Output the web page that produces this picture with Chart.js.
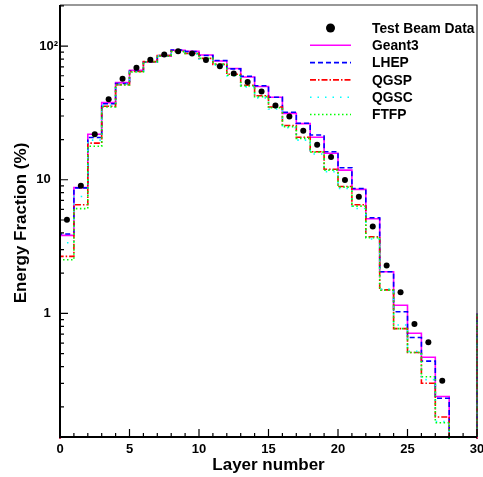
<!DOCTYPE html>
<html>
<head>
<meta charset="utf-8">
<script src="https://cdn.jsdelivr.net/npm/chart.js@4.4.0/dist/chart.umd.min.js"></script>
<style>
  html, body { margin: 0; padding: 0; background: #fff; }
</style>
</head>
<body>
<canvas id="chart" width="483" height="477"></canvas>
<script>
// bin lower edges (layer number), bins are 1 layer wide
const layerBins = [0, 1, 2, 3, 4, 5, 6, 7, 8, 9, 10, 11, 12, 13, 14, 15, 16, 17, 18, 19, 20, 21, 22, 23, 24, 25, 26, 27, 28, 29, 30];

// test beam data, at the layer centres
const beamLayers = [0.5, 1.5, 2.5, 3.5, 4.5, 5.5, 6.5, 7.5, 8.5, 9.5, 10.5, 11.5, 12.5, 13.5, 14.5, 15.5, 16.5, 17.5, 18.5, 19.5, 20.5, 21.5, 22.5, 23.5, 24.5, 25.5, 26.5, 27.5];
const testBeam = [5.03, 9.03, 21.9, 40.0, 57.1, 69.0, 79.2, 86.4, 91.4, 87.9, 78.7, 70.6, 62.3, 53.9, 45.7, 35.9, 29.7, 23.3, 18.3, 14.8, 9.95, 7.47, 4.48, 2.28, 1.44, 0.832, 0.61, 0.313];

// simulated energy fraction per layer (%)
const geant3 = [3.84, 8.73, 21.9, 37.8, 53.3, 65.9, 76.0, 84.4, 93.0, 91.4, 85.8, 77.4, 67.9, 58.7, 49.8, 41.4, 31.4, 26.3, 20.8, 15.8, 11.8, 8.47, 5.11, 2.05, 1.15, 0.71, 0.47, 0.239, 0, 0, 1.0];
const lhep = [3.93, 8.7, 20.7, 37.0, 52.5, 65.0, 76.0, 85.0, 93.5, 91.0, 85.0, 78.0, 67.5, 59.5, 50.5, 41.4, 32.0, 26.5, 21.6, 16.2, 12.3, 8.6, 5.2, 2.05, 1.03, 0.66, 0.44, 0.232, 0, 0, 1.0];
const qgsp = [2.67, 6.51, 18.8, 35.5, 51.5, 64.5, 76.5, 85.0, 91.5, 88.0, 81.0, 73.0, 61.5, 51.0, 42.5, 35.0, 25.5, 20.8, 16.2, 12.0, 8.9, 6.5, 3.75, 1.5, 0.77, 0.51, 0.30, 0.168, 0, 0, 1.0];
const qgsc = [3.38, 7.5, 19.8, 36.0, 52.0, 64.5, 76.0, 84.5, 91.0, 87.5, 80.0, 72.0, 60.0, 49.5, 41.0, 33.8, 24.5, 19.8, 15.6, 11.5, 8.6, 6.1, 3.6, 1.52, 0.82, 0.52, 0.32, 0.155, 0, 0, 1.0];
const ftfp = [2.52, 6.08, 17.8, 35.0, 51.2, 64.0, 76.0, 84.0, 91.0, 88.0, 81.0, 73.5, 60.5, 50.3, 41.9, 34.6, 25.0, 20.4, 16.1, 11.8, 8.81, 6.35, 3.69, 1.49, 0.77, 0.51, 0.336, 0.152, 0, 0, 1.0];

const yTickLabels = { 1: "1  ", 10: "10  ", 100: "10\u00b2" };

const FLOOR = 0.01; // empty bins sit below the axis

// histogram outline: rise from the axis at the first edge, then step per bin
function histPoints(values) {
  var pts = [{ x: layerBins[0], y: FLOOR }];
  for (let i = 0; i < values.length; i++) {
    pts.push({ x: layerBins[i], y: values[i] > 0 ? values[i] : FLOOR });
  }
  var last = values[values.length - 1];
  pts.push({ x: layerBins[layerBins.length - 1] + 1, y: last > 0 ? last : FLOOR });
  return pts;
}

function histDataset(label, values, color, dash, order) {
  return {
    label: label,
    data: histPoints(values),
    borderColor: color,
    backgroundColor: color,
    borderWidth: 1.6,
    borderDash: dash,
    pointRadius: 0,
    stepped: true,
    fill: false,
    order: order,
    clip: 2,
  };
}

var beamPoints = [];
beamLayers.forEach((l, i) => {
  beamPoints.push({ x: l, y: testBeam[i] });
});

Chart.defaults.font.family = "'Liberation Sans', Arial, sans-serif";
Chart.defaults.color = "#000";

const rootStyle = {
  id: "rootStyle",
  afterDraw(chart) {
    const ctx = chart.ctx;
    const a = chart.chartArea;
    const x = chart.scales.x;
    const y = chart.scales.y;
    ctx.save();

    // frame
    ctx.strokeStyle = "#333";
    ctx.lineWidth = 1.2;
    ctx.beginPath();
    ctx.moveTo(a.left, a.top);
    ctx.lineTo(a.right, a.top);
    ctx.lineTo(a.right, a.bottom);
    ctx.stroke();
    ctx.strokeStyle = "#000";
    ctx.lineWidth = 2;
    ctx.beginPath();
    ctx.moveTo(a.left, a.top);
    ctx.lineTo(a.left, a.bottom);
    ctx.lineTo(a.right, a.bottom);
    ctx.stroke();

    // inward ticks
    ctx.lineWidth = 1.2;
    ctx.beginPath();
    for (let v = 0; v <= 30; v++) {
      const px = x.getPixelForValue(v);
      const len = v % 5 === 0 ? 8 : 4;
      ctx.moveTo(px, a.bottom);
      ctx.lineTo(px, a.bottom - len);
    }
    for (let d = -1; d <= 2; d++) {
      for (let m = 1; m <= 9; m++) {
        const v = m * Math.pow(10, d);
        if (v < y.min || v > y.max) continue;
        const py = y.getPixelForValue(v);
        const len = m === 1 ? 8 : 4;
        ctx.moveTo(a.left, py);
        ctx.lineTo(a.left + len, py);
      }
    }
    ctx.stroke();

    // axis titles
    ctx.fillStyle = "#000";
    ctx.font = "bold 17px 'Liberation Sans', Arial, sans-serif";
    ctx.textAlign = "center";
    ctx.textBaseline = "alphabetic";
    ctx.fillText("Layer number", (a.left + a.right) / 2, 470);
    ctx.save();
    ctx.translate(26, (a.top + a.bottom) / 2 + 2);
    ctx.rotate(-Math.PI / 2);
    ctx.fillText("Energy Fraction (%)", 0, 0);
    ctx.restore();

    // legend
    const sets = chart.data.datasets;
    ctx.font = "bold 13.8px 'Liberation Sans', Arial, sans-serif";
    ctx.textAlign = "left";
    ctx.textBaseline = "middle";
    sets.forEach((ds, i) => {
      const ly = a.top + 23 + i * 17.3;
      if (ds.showLine === false) {
        ctx.fillStyle = "#000";
        ctx.beginPath();
        ctx.arc(330.5, ly, 4.5, 0, Math.PI * 2);
        ctx.fill();
      } else {
        ctx.strokeStyle = ds.borderColor;
        ctx.lineWidth = 1.6;
        ctx.setLineDash(ds.borderDash || []);
        ctx.beginPath();
        ctx.moveTo(310, ly);
        ctx.lineTo(351, ly);
        ctx.stroke();
        ctx.setLineDash([]);
      }
      ctx.fillStyle = "#000";
      ctx.fillText(ds.label, 372, ly + 1);
    });
    ctx.restore();
  },
};

new Chart(document.getElementById("chart"), {
  type: "line",
  data: {
    datasets: [
      {
        label: "Test Beam Data",
        data: beamPoints,
        showLine: false,
        pointRadius: 3,
        pointBackgroundColor: "#000",
        pointBorderColor: "#000",
        pointBorderWidth: 0,
        order: 0,
      },
      histDataset("Geant3", geant3, "#ff00ff", [], 5),
      histDataset("LHEP", lhep, "#0000ff", [5, 3], 4),
      histDataset("QGSP", qgsp, "#ff0000", [6, 2, 1.5, 2], 3),
      histDataset("QGSC", qgsc, "#00ffff", [1.5, 6], 2),
      histDataset("FTFP", ftfp, "#00ff00", [1.5, 2.5], 1),
    ],
  },
  options: {
    responsive: false,
    animation: false,
    devicePixelRatio: 1,
    layout: { padding: { top: 5, right: 6, left: 0, bottom: 0 } },
    plugins: {
      legend: { display: false },
      tooltip: { enabled: false },
    },
    scales: {
      x: {
        type: "linear",
        min: 0,
        max: 30,
        grid: { display: false, drawTicks: false },
        border: { display: false },
        ticks: {
          stepSize: 5,
          padding: 5,
          font: { size: 13, weight: "bold" },
          maxRotation: 0,
        },
        afterFit(scale) {
          scale.height = 40;
          scale.paddingLeft = 0;
          scale.paddingRight = 0;
        },
      },
      y: {
        type: "logarithmic",
        min: 0.119,
        max: 203,
        grid: { display: false, drawTicks: false },
        border: { display: false },
        ticks: {
          autoSkip: false,
          padding: 2,
          font: { size: 13, weight: "bold" },
          callback: (v) => yTickLabels[Math.round(v * 1000) / 1000] || "",
        },
        afterFit(scale) {
          scale.width = 60;
          scale.paddingTop = 0;
          scale.paddingBottom = 0;
        },
      },
    },
  },
  plugins: [rootStyle],
});
</script>
</body>
</html>
